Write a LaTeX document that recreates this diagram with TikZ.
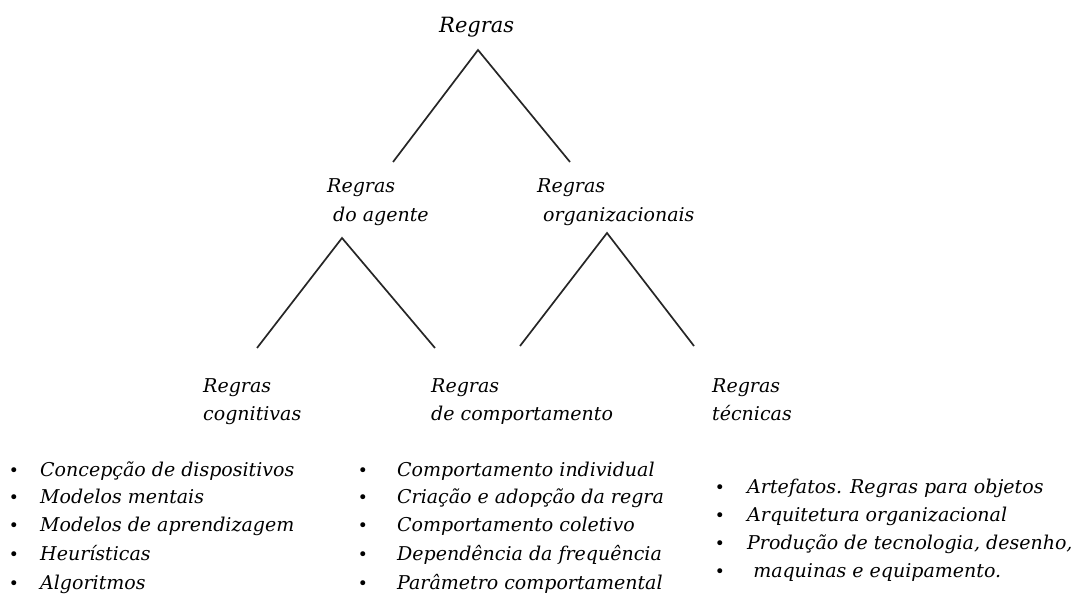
\documentclass[tikz,border=0pt]{standalone}
\usepackage{fontspec}
\setmainfont{DejaVu Serif}
\begin{document}
\begin{tikzpicture}[x=1pt,y=-1pt,
  hd/.style={anchor=base west, inner sep=0pt, font=\itshape\fontsize{19}{28}\selectfont},
  itm/.style={anchor=base west, inner sep=0pt, font=\itshape\fontsize{19}{28}\selectfont},
  bul/.style={anchor=base, inner sep=0pt, font=\fontsize{17}{18}\selectfont},
  ln/.style={line width=1.7pt, draw=black!85}]
\useasboundingbox (0,0) rectangle (1075,601);
% headings
\node[hd, font=\itshape\fontsize{21}{28}\selectfont] (top) at (439,33) {Regras};
\node[hd] (agA) at (327,193) {Regras};
\node[hd] (agB) at (333,222) {do agente};
\node[hd] (orA) at (537,193) {Regras};
\node[hd] (orB) at (543,222) {organizacionais};
\node[hd] (cgA) at (203,392) {Regras};
\node[hd] (cgB) at (203,420) {cognitivas};
\node[hd] (cpA) at (431,392) {Regras};
\node[hd] (cpB) at (431,420) {de comportamento};
\node[hd] (tcA) at (712,392) {Regras};
\node[hd] (tcB) at (712,420) {técnicas};
% connector coordinates
\coordinate (t0) at (478,50);
\coordinate (t1) at (393,162);
\coordinate (t2) at (570,162);
\coordinate (a0) at (342,238);
\coordinate (a1) at (257,348);
\coordinate (a2) at (435,348);
\coordinate (o0) at (607,233);
\coordinate (o1) at (520,346);
\coordinate (o2) at (694,346);
\draw[ln] (t1) -- (t0) -- (t2);
\draw[ln] (a1) -- (a0) -- (a2);
\draw[ln] (o1) -- (o0) -- (o2);
% left list
\foreach \y/\t/\n in {476/Concepção de dispositivos/l1, 503/Modelos mentais/l2, 531/Modelos de aprendizagem/l3, 560/Heurísticas/l4, 589/Algoritmos/l5}{
  \node[bul] (b\n) at (14,\y) {•};
  \node[itm] (\n) at (40,\y) {\t};
}
% middle list
\foreach \y/\t/\n in {476/Comportamento individual/m1, 503/Criação e adopção da regra/m2, 531/Comportamento coletivo/m3, 560/Dependência da frequência/m4, 589/Parâmetro comportamental/m5}{
  \node[bul] (b\n) at (363,\y) {•};
  \node[itm] (\n) at (397,\y) {\t};
}
% right list
\foreach \y/\t/\n in {493/Artefatos. Regras para objetos/r1, 521/Arquitetura organizacional/r2, 549/{Produção de tecnologia, desenho,}/r3, 577/\ maquinas e equipamento./r4}{
  \node[bul] (b\n) at (720,\y) {•};
  \node[itm] (\n) at (747,\y) {\t};
}
\end{tikzpicture}
\end{document}
